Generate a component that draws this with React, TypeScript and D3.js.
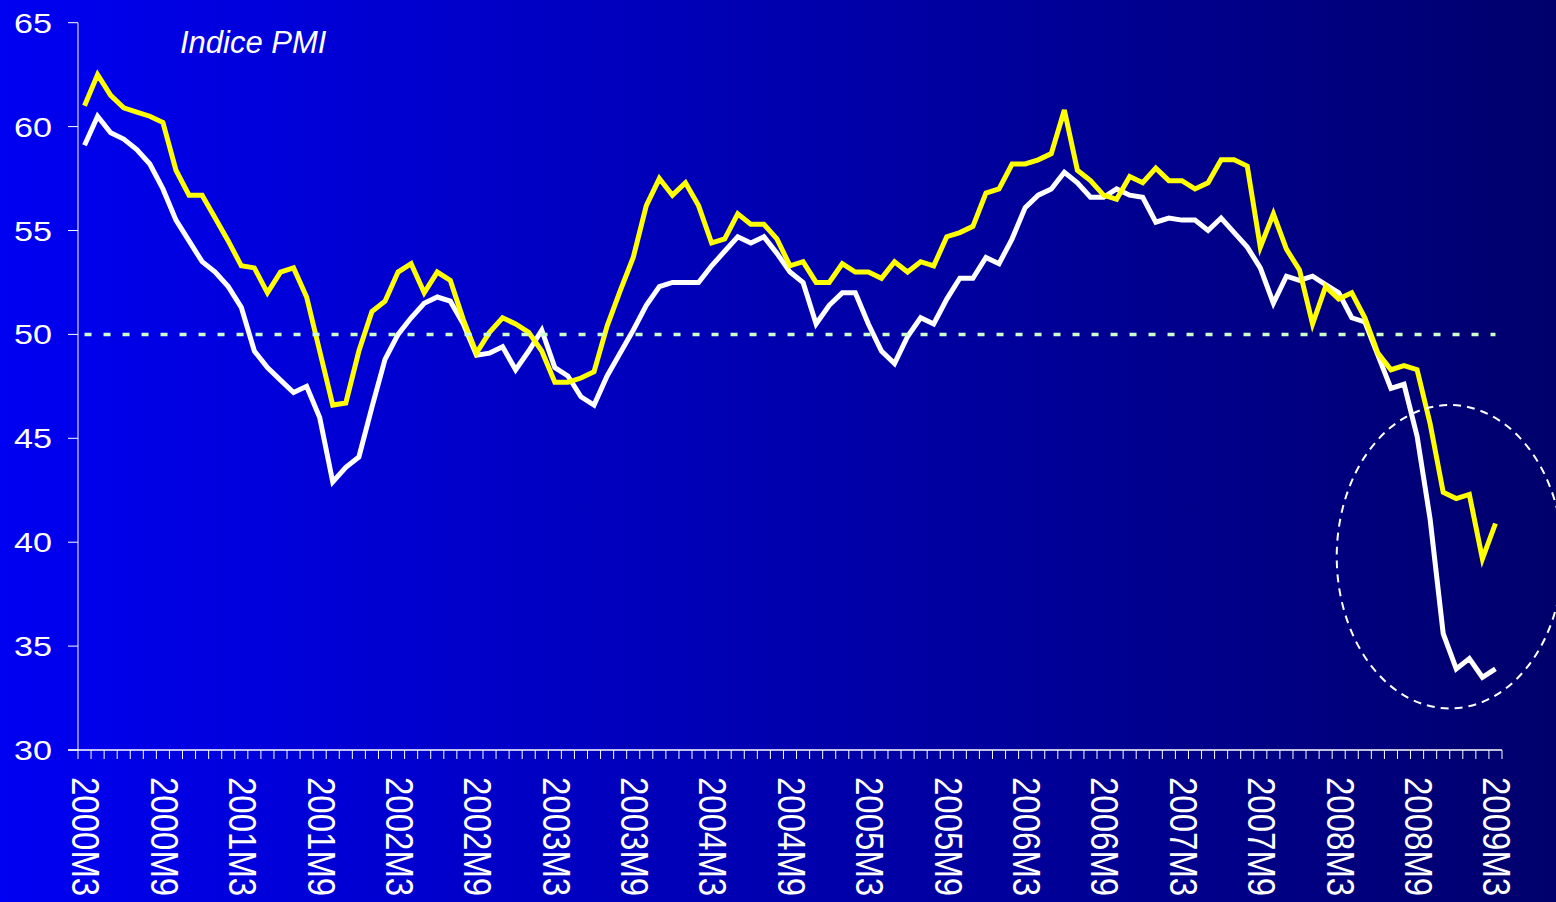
import React, { useEffect, useRef } from "react";
import * as d3 from "d3";

// monthly categories 2000M3 .. 2009M3
const months: string[] = [];
for (let y = 2000; y <= 2009; y++) {
  for (let m = 1; m <= 12; m++) {
    if ((y === 2000 && m < 3) || (y === 2009 && m > 3)) continue;
    months.push(`${y}M${m}`);
  }
}

const yellowSeries = [
  61.0, 62.5, 61.5, 60.9, 60.7, 60.5, 60.2, 57.9, 56.7, 56.7,
  55.6, 54.5, 53.3, 53.2, 52.0, 53.0, 53.2, 51.8, 49.2, 46.6,
  46.7, 49.2, 51.1, 51.6, 53.0, 53.4, 52.0, 53.0, 52.6, 50.7,
  49.1, 50.1, 50.8, 50.5, 50.1, 49.2, 47.7, 47.7, 47.9, 48.2,
  50.4, 52.1, 53.7, 56.2, 57.5, 56.7, 57.3, 56.2, 54.4, 54.6,
  55.8, 55.3, 55.3, 54.6, 53.3, 53.5, 52.5, 52.5, 53.4, 53.0,
  53.0, 52.7, 53.5, 53.0, 53.5, 53.3, 54.7, 54.9, 55.2, 56.8,
  57.0, 58.2, 58.2, 58.4, 58.7, 60.8, 57.9, 57.4, 56.7, 56.5,
  57.6, 57.3, 58.0, 57.4, 57.4, 57.0, 57.3, 58.4, 58.4, 58.1,
  54.2, 55.8, 54.1, 53.1, 50.5, 52.3, 51.7, 52.0, 50.8, 49.1,
  48.3, 48.5, 48.3, 45.7, 42.4, 42.1, 42.3, 39.2, 40.9
];

const whiteSeries = [
  59.1, 60.5, 59.7, 59.4, 58.9, 58.2, 57.0, 55.5, 54.5, 53.5,
  53.0, 52.3, 51.3, 49.2, 48.4, 47.8, 47.2, 47.5, 46.0, 42.9,
  43.6, 44.1, 46.5, 48.8, 50.0, 50.8, 51.5, 51.8, 51.6, 50.5,
  49.0, 49.1, 49.4, 48.3, 49.2, 50.2, 48.4, 48.0, 47.0, 46.6,
  48.0, 49.1, 50.2, 51.4, 52.3, 52.5, 52.5, 52.5, 53.3, 54.0,
  54.7, 54.4, 54.7, 53.9, 53.0, 52.5, 50.5, 51.4, 52.0, 52.0,
  50.5, 49.2, 48.6, 49.9, 50.8, 50.5, 51.7, 52.7, 52.7, 53.7,
  53.4, 54.6, 56.1, 56.7, 57.0, 57.8, 57.3, 56.6, 56.6, 57.0,
  56.7, 56.6, 55.4, 55.6, 55.5, 55.5, 55.0, 55.6, 54.9, 54.2,
  53.2, 51.5, 52.8, 52.6, 52.8, 52.4, 52.0, 50.8, 50.6, 49.0,
  47.4, 47.6, 45.1, 41.1, 35.6, 33.9, 34.4, 33.5, 33.9
];

const yTicks = [30, 35, 40, 45, 50, 55, 60, 65];
const threshold = 50;
const title = "Indice PMI";

const size = { width: 1556, height: 902 };
const plot = { left: 78, right: 1502, top: 22.7, bottom: 750 };

const Chart = () => {
  const ref = useRef<SVGGElement>(null);

  useEffect(() => {
    const g = d3.select(ref.current);
    g.selectAll("*").remove();

    const x = d3.scaleBand<number>()
      .domain(months.map((_, i) => i))
      .range([plot.left, plot.right]);
    const cx = (i: number) => (x(i) as number) + x.bandwidth() / 2;
    const y = d3.scaleLinear().domain([30, 65]).range([plot.bottom, plot.top]);

    // y axis
    g.append("line")
      .attr("x1", plot.left).attr("x2", plot.left)
      .attr("y1", plot.top).attr("y2", plot.bottom)
      .attr("stroke", "#a8a8ff").attr("stroke-width", 1.5);
    yTicks.forEach(t => {
      g.append("line")
        .attr("x1", plot.left - 10).attr("x2", plot.left)
        .attr("y1", y(t)).attr("y2", y(t))
        .attr("stroke", "#ffffff").attr("stroke-width", 1);
      g.append("text")
        .attr("transform", `translate(52 ${y(t)}) scale(1.22 1)`)
        .attr("text-anchor", "end")
        .attr("dy", "0.36em")
        .style("fill", "white")
        .style("font-size", "28px")
        .style("font-family", "'Liberation Sans', Arial, sans-serif")
        .text(t);
    });

    // x axis
    g.append("line")
      .attr("x1", plot.left - 10).attr("x2", plot.right)
      .attr("y1", plot.bottom).attr("y2", plot.bottom)
      .attr("stroke", "#ffffff").attr("stroke-width", 1.5);
    const bounds = months.map((_, i) => x(i) as number).concat([plot.right]);
    bounds.forEach(bx => {
      g.append("line")
        .attr("x1", bx).attr("x2", bx)
        .attr("y1", plot.bottom).attr("y2", plot.bottom + 9)
        .attr("stroke", "#ffffff").attr("stroke-width", 1);
    });
    months.forEach((m, i) => {
      if (i % 6 !== 0) return;
      g.append("text")
        .attr("transform", `translate(${cx(i) + 1.5} ${plot.bottom + 27}) scale(1.15 1) rotate(90)`)
        .attr("dy", "0.36em")
        .style("fill", "white")
        .style("font-size", "33px")
        .style("font-family", "'Liberation Sans', Arial, sans-serif")
        .text(m);
    });

    const line = d3.line<number>()
      .x((_, i) => cx(i))
      .y(d => y(d));

    g.append("path")
      .attr("d", line(whiteSeries))
      .attr("fill", "none")
      .attr("stroke", "#ffffff")
      .attr("stroke-width", 5);

    g.append("path")
      .attr("d", line(yellowSeries))
      .attr("fill", "none")
      .attr("stroke", "#ffff00")
      .attr("stroke-width", 5);

    // 50 threshold
    g.append("line")
      .attr("x1", cx(0)).attr("x2", cx(months.length - 1))
      .attr("y1", y(threshold)).attr("y2", y(threshold))
      .attr("stroke", "#ccffcc")
      .attr("stroke-width", 3.5)
      .attr("stroke-dasharray", "7 12");

    // highlight ellipse around the last months
    const eCenter = 104.5;
    g.append("ellipse")
      .attr("cx", cx(0) + eCenter * x.step())
      .attr("cy", y(39.3))
      .attr("rx", 8.65 * x.step())
      .attr("ry", y(32) - y(39.3))
      .attr("fill", "none")
      .attr("stroke", "#ffffff")
      .attr("stroke-width", 2)
      .attr("stroke-dasharray", "8 6");

    g.append("text")
      .attr("x", 180)
      .attr("y", 53)
      .style("fill", "white")
      .style("font-size", "31px")
      .style("font-style", "italic")
      .style("font-family", "'Liberation Sans', Arial, sans-serif")
      .text(title);
  }, []);

  return (
    <svg width={size.width} height={size.height} style={{ position: "absolute", left: 0, top: 0 }}>
      <defs>
        <linearGradient id="bg" x1="0" x2="1" y1="0" y2="0">
          <stop offset="0" stopColor="#0000f2" />
          <stop offset="1" stopColor="#00006c" />
        </linearGradient>
      </defs>
      <rect width={size.width} height={size.height} fill="url(#bg)" />
      <g ref={ref} />
    </svg>
  );
};

export default function App() {
  return <Chart />;
}
